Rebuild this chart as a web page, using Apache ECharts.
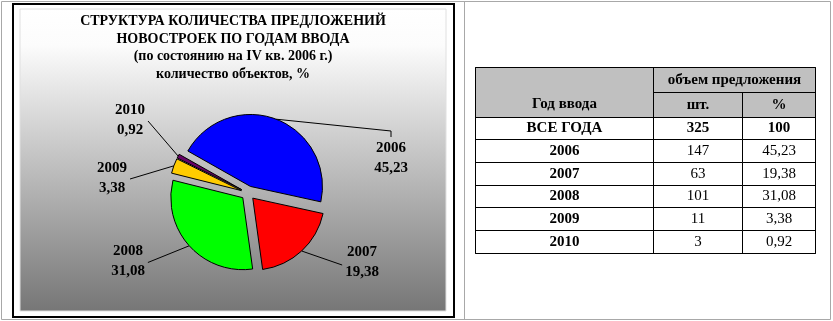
<!DOCTYPE html>
<html><head><meta charset="utf-8">
<script src="https://cdn.jsdelivr.net/npm/echarts@6/dist/echarts.min.js"></script>
<style>html,body{margin:0;padding:0;background:#fff}#c{width:833px;height:321px}</style>
</head><body><div id="c"></div>
<script>
// ---- data ----
const years = ['2006', '2007', '2008', '2009', '2010'];
const shares = [45.23, 19.38, 31.08, 3.38, 0.92];
const counts = [147, 63, 101, 11, 3];
const totalLabel = 'ВСЕ ГОДА';
const totalCount = 325;
const totalShare = 100;
const titleLines = ['СТРУКТУРА КОЛИЧЕСТВА ПРЕДЛОЖЕНИЙ', 'НОВОСТРОЕК ПО ГОДАМ ВВОДА'];
const subtitleLines = ['(по состоянию на IV кв. 2006 г.)', 'количество объектов, %'];
const headerYear = 'Год ввода';
const headerGroup = 'объем предложения';
const headerCount = 'шт.';
const headerShare = '%';

// ---- styles ----
const FONT = '"Liberation Serif", "Times New Roman", serif';
const sliceColors = ['#0000FF', '#FF0000', '#00FF00', '#FFCC00', '#660066'];
const pieCenter = [248, 193];
const pieRadius = 72;
const explode = 7;
const labelOffsets = [[143, -35], [114, 69], [-120, 68.5], [-136, -15], [-118, -73]];
const labelSides = ['top', 'left', 'right', 'right', 'right'];
const fmt = v => String(v).replace('.', ',');
const LINE = { color: '#000', width: 1 };

const rowNames = [totalLabel].concat(years);
const rowCounts = [totalCount].concat(counts);
const rowShares = [totalShare].concat(shares);
const bodyData = [];
rowNames.forEach((n, r) => {
  const lab = r === 0 ? { fontWeight: 'bold' } : {};
  bodyData.push({ coord: [0, r], value: String(rowCounts[r]), label: lab });
  bodyData.push({ coord: [1, r], value: fmt(rowShares[r]), label: lab });
});

const chart = echarts.init(document.getElementById('c'));
chart.setOption({
  animation: false,
  graphic: { elements: [
    { type: 'rect', z: -10, silent: true, shape: { x: 1.5, y: 1.5, width: 829, height: 318 }, style: { fill: 'none', stroke: '#a8a8a8', lineWidth: 1 } },
    { type: 'line', z: -10, silent: true, shape: { x1: 464.5, y1: 1.5, x2: 464.5, y2: 319.5 }, style: { stroke: '#a8a8a8', lineWidth: 1 } },
    { type: 'rect', z: -9, silent: true, shape: { x: 13, y: 4, width: 441, height: 313 }, style: { fill: '#fff', stroke: '#000', lineWidth: 2 } },
    { type: 'rect', z: -8, silent: true, shape: { x: 20, y: 9, width: 426, height: 302 }, style: {
      fill: { type: 'linear', x: 0, y: 0, x2: 0, y2: 1, colorStops: [
        { offset: 0, color: '#ffffff' }, { offset: 0.12, color: '#fcfcfc' }, { offset: 1, color: '#767676' } ] },
      stroke: '#e0e0e0', lineWidth: 1 } }
  ] },
  title: [{
    text: titleLines.join('\n'),
    subtext: subtitleLines.join('\n'),
    left: 233, top: 13, textAlign: 'center', itemGap: 0, padding: 0,
    textStyle: { fontFamily: FONT, fontSize: 14, fontWeight: 'bold', color: '#000', lineHeight: 17.5 },
    subtextStyle: { fontFamily: FONT, fontSize: 14, fontWeight: 'bold', color: '#000', lineHeight: 17.5 }
  }],
  series: [{
    type: 'pie',
    center: pieCenter,
    radius: pieRadius,
    startAngle: 150.5,
    selectedMode: 'multiple',
    selectedOffset: explode,
    emphasis: { disabled: true },
    itemStyle: { borderColor: '#000', borderWidth: 1 },
    label: { show: false },
    labelLine: { show: false },
    data: years.map((y, i) => ({ name: y, value: shares[i], selected: true, itemStyle: { color: sliceColors[i] } }))
  }, {
    type: 'pie',
    silent: true,
    center: pieCenter,
    radius: pieRadius + explode,
    startAngle: 150.5,
    avoidLabelOverlap: false,
    emphasis: { disabled: true },
    itemStyle: { color: 'rgba(0,0,0,0)', borderWidth: 0 },
    label: {
      show: true, position: 'outside',
      formatter: p => p.name + '\n' + fmt(p.value),
      fontFamily: FONT, fontSize: 15, fontWeight: 'bold', color: '#000', lineHeight: 20
    },
    labelLine: { show: true, length: 10, length2: 4, lineStyle: LINE },
    labelLayout: p => {
      const i = p.dataIndex;
      const x = pieCenter[0] + labelOffsets[i][0];
      const y = pieCenter[1] + labelOffsets[i][1];
      const w = p.labelRect.width, h = p.labelRect.height;
      const start = p.labelLinePoints ? p.labelLinePoints[0] : [x, y];
      let end, bend;
      if (labelSides[i] === 'top') { end = [x, y - h / 2 - 1]; bend = [x, end[1] - 6]; }
      else if (labelSides[i] === 'left') { end = [x - w / 2 - 3, y + 3]; bend = end; }
      else { end = [x + w / 2 + 3, y + 1]; bend = end; }
      return { x, y, align: 'center', verticalAlign: 'middle', labelLinePoints: [start, bend, end] };
    },
    data: years.map((y, i) => ({ name: y, value: shares[i] }))
  }],
  matrix: {
    z: 10,
    left: 475, top: 67, width: 340, height: 186,
    backgroundStyle: { color: '#fff', borderColor: '#000', borderWidth: 1 },
    x: {
      data: [{ value: headerGroup, children: [{ value: headerCount, size: 89 }, { value: headerShare, size: 73 }] }],
      levels: [{ levelSize: 25 }, { levelSize: 25 }],
      itemStyle: { color: '#c0c0c0', borderColor: '#000', borderWidth: 1 },
      label: { fontFamily: FONT, fontSize: 15, fontWeight: 'bold', color: '#000', overflow: 'none' },
      dividerLineStyle: LINE
    },
    y: {
      data: rowNames,
      levels: [{ levelSize: 178 }],
      itemStyle: { color: '#fff', borderColor: '#000', borderWidth: 1 },
      label: { fontFamily: FONT, fontSize: 15, fontWeight: 'bold', color: '#000' },
      dividerLineStyle: LINE
    },
    corner: {
      data: [{ coord: [-1, [-2, -1]], mergeCells: true, value: '\n' + headerYear }],
      itemStyle: { color: '#c0c0c0', borderColor: '#000', borderWidth: 1 },
      label: { fontFamily: FONT, fontSize: 15, fontWeight: 'bold', color: '#000', lineHeight: 23, overflow: 'none' }
    },
    body: {
      data: bodyData,
      itemStyle: { color: '#fff', borderColor: '#000', borderWidth: 1 },
      label: { fontFamily: FONT, fontSize: 15, color: '#000' }
    }
  }
});
</script></body></html>
